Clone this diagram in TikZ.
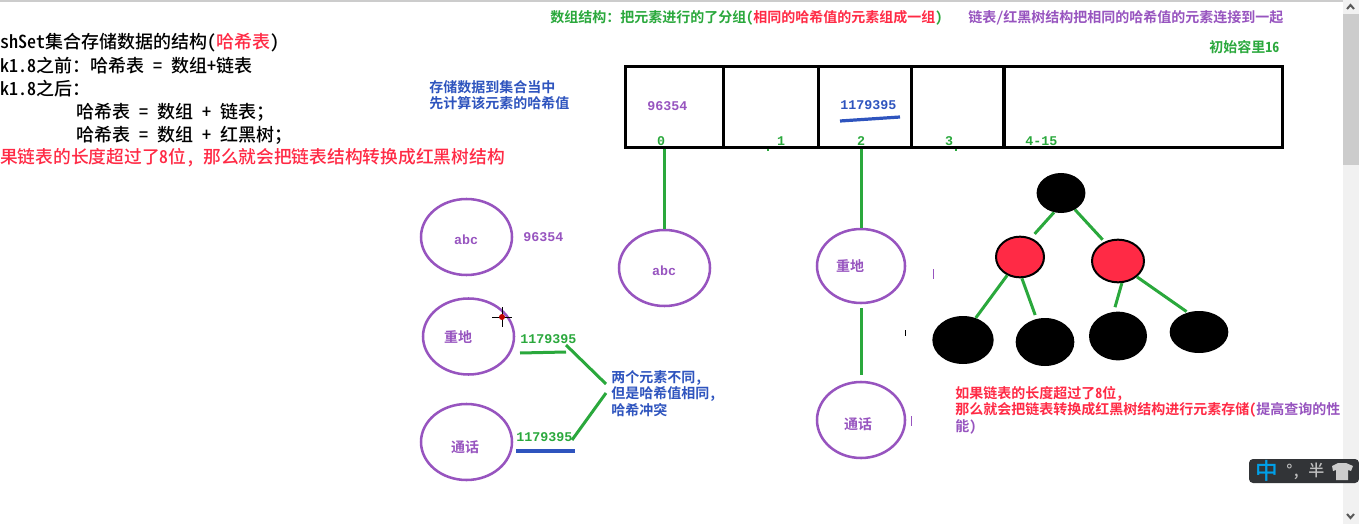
\documentclass[tikz,border=0pt]{standalone}
\usepackage{fontspec}
\usepackage{xcolor}
\usepackage{tikz}
\usetikzlibrary{shapes.geometric,calc}
\newfontfamily\cjk[RawFeature=+hwid]{Noto Sans CJK SC Medium}
\newfontfamily\cjkbold[RawFeature=+hwid]{Noto Sans CJK SC Bold}
\newfontfamily\digits{Liberation Mono Bold}
\definecolor{hashPurple}{RGB}{151,84,191}
\definecolor{hashGreen}{RGB}{42,168,60}
\definecolor{hashBlue}{RGB}{46,84,190}
\definecolor{hashRed}{RGB}{255,42,69}
\definecolor{barTrack}{RGB}{241,241,241}
\definecolor{barThumb}{RGB}{204,204,204}
\definecolor{imeFill}{RGB}{50,52,55}
\definecolor{imeBlue}{RGB}{0,160,233}
\tikzset{
  bigtext/.style={anchor=west, inner sep=0pt, font=\cjk\fontsize{13.5pt}{17pt}\selectfont, text=black},
  smalltext/.style={anchor=west, inner sep=0pt, align=left, font=\cjkbold\fontsize{10.5pt}{12.4pt}\selectfont},
  numtext/.style={anchor=west, inner sep=0pt, font=\digits\fontsize{10pt}{12pt}\selectfont},
  arraycell/.style={rectangle, draw=black, line width=2.25pt, minimum height=61pt, inner sep=0pt},
  keycircle/.style={ellipse, draw=hashPurple, line width=1.9pt, inner sep=0pt},
  blacknode/.style={ellipse, fill=black, inner sep=0pt},
  rednode/.style={ellipse, fill=hashRed, draw=black, line width=1.5pt, inner sep=0pt},
  greenline/.style={draw=hashGreen, line width=2.25pt},
  blueline/.style={draw=hashBlue, line width=2.4pt},
  tickline/.style={line width=0.6pt},
  chevron/.style={draw=black!65, line width=1.5pt},
}
\begin{document}
\begin{tikzpicture}[x=0.75pt, y=-0.75pt]
  \useasboundingbox (0,0) rectangle (1359,524);
  % window chrome
  \fill[barThumb] (0,0) rectangle (1343,2.5);
  \fill[barTrack] (1343,0) rectangle (1359,524);
  \fill[barThumb] (1343,14) rectangle (1359,165);
  \draw[chevron] (1347,9) -- (1350.5,5) -- (1354,9);
  \draw[chevron] (1347,514) -- (1350.5,518) -- (1354,514);

  % notes at the left
  \node[bigtext] (line1) at (0,43) {shSet集合存储数据的结构(\textcolor{hashRed}{哈希表})};
  \node[bigtext] (line2) at (0,66) {k1.8之前：哈希表 = 数组+链表};
  \node[bigtext] (line3) at (0,89) {k1.8之后：};
  \node[bigtext] (line4) at (76,112) {哈希表 = 数组 + 链表；};
  \node[bigtext] (line5) at (76,135) {哈希表 = 数组 + 红黑树；};
  \node[bigtext, font=\cjk\fontsize{13.3pt}{17pt}\selectfont, text=hashRed] (line6) at (0,158) {果链表的长度超过了8位，\kern6pt那么就会把链表结构转换成红黑树结构};

  % notes at the top
  \node[smalltext, text=hashGreen] (grouptext) at (550,18)
    {数组结构：把元素进行的了分组(\textcolor{hashRed}{相同的哈希值的元素组成一组})};
  \node[smalltext, text=hashPurple] (linktext) at (968,18) {链表/红黑树结构把相同的哈希值的元素连接到一起};
  \node[smalltext, text=hashGreen] (capacity) at (1209,47) {初始容里16};
  \node[smalltext, text=hashBlue] (storetext) at (429,95) {存储数据到集合当中\\先计算该元素的哈希值};

  % the array
  \node[arraycell, minimum width=73.5pt] (cell0) at (674.5,107) {};
  \node[arraycell, minimum width=71.25pt] (cell1) at (770.5,107) {};
  \node[arraycell, minimum width=69.75pt] (cell2) at (864.5,107) {};
  \node[arraycell, minimum width=69pt] (cell3) at (957.5,107) {};
  \node[arraycell, minimum width=208.5pt] (cell4) at (1143,107) {};
  \node[numtext, text=hashPurple] (hash0) at (647,106) {96354};
  \node[numtext, text=hashBlue] (hash2) at (840,105) {1179395};
  \coordinate (under0) at (840,121);
  \coordinate (under1) at (900,117);
  \draw[blueline] (under0) -- (under1);
  \node[numtext, anchor=center, text=hashGreen] (idx0) at (661,141) {0};
  \node[numtext, anchor=center, text=hashGreen] (idx1) at (781,141) {1};
  \node[numtext, anchor=center, text=hashGreen] (idx2) at (861,141) {2};
  \node[numtext, anchor=center, text=hashGreen] (idx3) at (949,141) {3};
  \node[numtext, text=hashGreen] (idx4) at (1025,141) {4-15};
  \draw[greenline, line width=1pt] (768,149) -- (768,151);
  \draw[greenline, line width=1pt] (956,149) -- (956,151);

  % keys on the left
  \node[keycircle, minimum width=68.25pt, minimum height=57pt] (abcleft) at (466.5,237) {};
  \node[keycircle, minimum width=68.25pt, minimum height=57pt] (zhongleft) at (468.5,336.5) {};
  \node[keycircle, minimum width=68.25pt, minimum height=57pt] (tongleft) at (466.5,442) {};
  \node[numtext, anchor=center, text=hashPurple] (abclabel) at (466,240) {abc};
  \node[smalltext, anchor=center, text=hashPurple] (zhonglabel) at (458,337) {重地};
  \node[smalltext, anchor=center, text=hashPurple] (tonglabel) at (465,447) {通话};
  \node[numtext, text=hashPurple] (hashabc) at (523,237) {96354};
  \node[numtext, text=hashGreen] (hashzhong) at (520,339) {1179395};
  \node[numtext, text=hashGreen] (hashtong) at (516,437) {1179395};
  \coordinate (under2) at (520,353);
  \coordinate (under3) at (566,352);
  \coordinate (under4) at (516,451);
  \coordinate (under5) at (575,451);
  \draw[greenline] (under2) -- (under3);
  \draw[blueline] (under4) -- (under5);
  \node[smalltext, text=hashBlue] (clashtext) at (611,393.5) {两个元素不同，\\但是哈希值相同，\\哈希冲突};
  \coordinate (clash1) at (606,384);
  \coordinate (clash2) at (606,393);
  \coordinate (from1) at (566,345);
  \coordinate (from2) at (572,440);
  \draw[greenline] (from1) -- (clash1);
  \draw[greenline] (from2) -- (clash2);

  % cursor
  \coordinate (cursor) at (502,317);
  \draw[tickline, draw=black] ($(cursor)+(-10,0)$) -- ($(cursor)+(10,0)$);
  \draw[tickline, draw=black] ($(cursor)+(0,-10)$) -- ($(cursor)+(0,10)$);
  \fill[red!75!black] (cursor) circle (3);

  % buckets
  \node[keycircle, minimum width=68.25pt, minimum height=57pt] (abcbucket) at (664.5,268) {};
  \node[keycircle, minimum width=66pt, minimum height=55.5pt] (zhongbucket) at (861,266) {};
  \node[keycircle, minimum width=66pt, minimum height=57pt] (tongbucket) at (861,420) {};
  \node[numtext, anchor=center, text=hashPurple] (abclabel2) at (664,271) {abc};
  \node[smalltext, anchor=center, text=hashPurple] (zhonglabel2) at (850,266) {重地};
  \node[smalltext, anchor=center, text=hashPurple] (tonglabel2) at (858,424) {通话};
  \draw[greenline] (abcbucket.north |- cell0.south) -- (abcbucket.north);
  \draw[greenline] (zhongbucket.north |- cell2.south) -- (zhongbucket.north);
  \draw[greenline, shorten <=3pt, shorten >=4.5pt] (zhongbucket.south) -- (tongbucket.north);
  \draw[tickline, draw=hashPurple] (933.5,269) -- (933.5,279);
  \draw[tickline, draw=black] (905,330) -- (905,336);
  \draw[tickline, draw=hashPurple] (911,416) -- (911,426);

  % red-black tree
  \node[blacknode, minimum width=36.6pt, minimum height=30pt] (root) at (1061,193) {};
  \node[rednode, minimum width=36pt, minimum height=30.5pt] (redleft) at (1020,257) {};
  \node[rednode, minimum width=39pt, minimum height=32pt] (redright) at (1118,261) {};
  \node[blacknode, minimum width=46pt, minimum height=36pt] (leaf1) at (963,340) {};
  \node[blacknode, minimum width=44pt, minimum height=36pt] (leaf2) at (1045,342) {};
  \node[blacknode, minimum width=43.5pt, minimum height=36.5pt] (leaf3) at (1118,336) {};
  \node[blacknode, minimum width=44pt, minimum height=31.5pt] (leaf4) at (1199,332) {};
  \draw[greenline, shorten >=4pt] (root.-110) -- (redleft.60);
  \draw[greenline, shorten >=2pt] (root.-50) -- (redright.125);
  \draw[greenline] (redleft.235) -- (leaf1.60);
  \draw[greenline, shorten >=3pt] (redleft.-85) -- (leaf2.110);
  \draw[greenline, shorten >=3.5pt] (redright.-80) -- (leaf3.100);
  \draw[greenline, shorten >=1pt] (redright.-40) -- (leaf4.120);

  \node[smalltext, text=hashRed] (treetext) at (955,410)
    {如果链表的长度超过了8位，\\那么就会把链表转换成红黑树结构进行元素存储(\textcolor{hashPurple}{提高查询的性}\\\textcolor{hashPurple}{能)}};

  % input method bar
  \fill[imeFill, rounded corners=3pt] (1249,459) rectangle (1359,483);
  \node[anchor=center, inner sep=0pt, text=imeBlue, font=\cjk\fontsize{17pt}{18pt}\selectfont] (imemode) at (1267,471) {中};
  \node[anchor=west, inner sep=0pt, text=white!75!black, font=\cjk\fontsize{12pt}{14pt}\selectfont] (imetext) at (1286,471) {°, 半};
  \fill[white!80!black] (1332,466) -- (1338,463) -- (1346,463) -- (1353,466) -- (1351,471) -- (1348,470) -- (1348,480) -- (1336,480) -- (1336,470) -- (1333,471) -- cycle;
\end{tikzpicture}
\end{document}
